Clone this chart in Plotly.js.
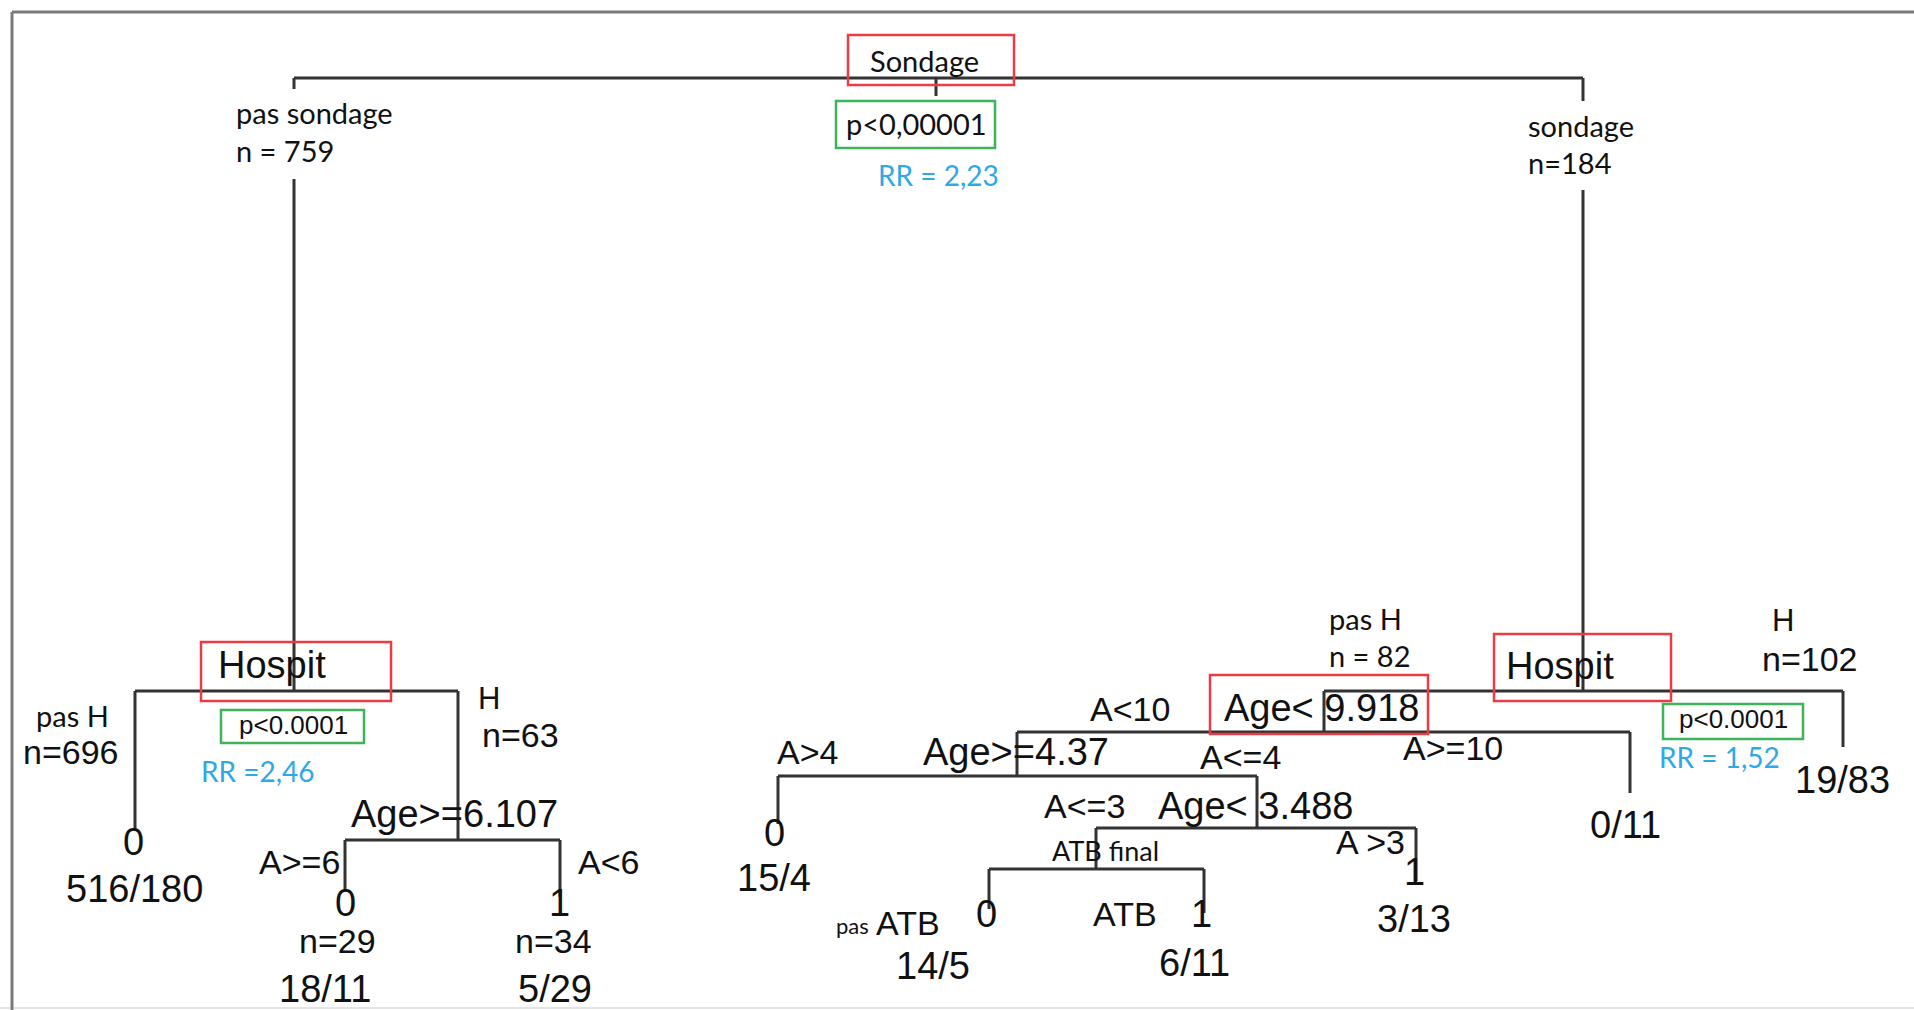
<!DOCTYPE html>
<html><head><meta charset="utf-8">
<script src="https://cdn.plot.ly/plotly-3.0.1.min.js"></script>
<style>html,body{margin:0;padding:0;background:#fff;}#chart{width:1914px;height:1010px;}</style>
</head><body><div id="chart"></div>
<script>
// ---------- tree (rpart) data ----------
// node order: 0 root, 1 Hospit(L), 2 Hospit(R), 3 Age>=6.107, 4..6 leaves, 7 Age<9.918, 8 leaf, 9 Age>=4.37, 10..11 leaves, 12 Age<3.488, 13 ATB final, 14..16 leaves
const nodeParent = [-1, 0, 0, 1, 1, 3, 3, 2, 2, 7, 7, 9, 9, 12, 12, 13, 13];
const nodeX      = [936, 294, 1583, 458, 135, 345, 560, 1324, 1843, 1017, 1630, 778, 1257, 1096, 1416, 989, 1204];
const nodeY      = [78, 691, 691, 840, 830, 891, 897, 732, 747, 776, 793, 824, 828, 869, 881, 909, 913];
const gapTop     = [null, 89, 101, null, null, null, null, null, null, null, null, null, null, null, null, null, null];
const gapBottom  = [null, 179, 190, null, null, null, null, null, null, null, null, null, null, null, null, null, null];
const rootStemEnd = 96;

// split labels
const splitText = ["Sondage", "Hospit", "Hospit", "Age>=6.107", "Age< 9.918", "Age>=4.37", "Age< 3.488", "ATB final"];
const splitTX   = [924, 216, 1504, 454, 1321, 1016, 1255, 1105];
const splitTY   = [60, 665, 666, 814, 708, 752, 806, 850];
const splitAnchor = ["center", "left", "left", "center", "center", "center", "center", "center"];
const splitFont = ["cal", "arialBig", "arialBig", "arialBig", "arialBig", "arialBig", "arialBig", "calSmall"];

// leaf predicted class
const leafClass = ["0", "0", "1", "0", "0", "1", "1"];
const leafCX    = [133, 345, 559, 774, 986, 1201, 1414];
const leafCY    = [842, 903, 903, 833, 914, 914, 872];

// leaf counts (no/yes)
const leafCounts = ["516/180", "18/11", "5/29", "19/83", "0/11", "15/4", "14/5", "6/11", "3/13"];
const countX     = [134, 325, 555, 1842, 1625, 774, 933, 1194, 1414];
const countY     = [889, 989, 989, 780, 825, 878, 966, 963, 919];

// sizes n
const nText = ["n=29", "n=34"];
const nX    = [337, 553];
const nY    = [941, 941];

// edge conditions
const edgeText = ["A>=6", "A<6", "A<10", "A>=10", "A>4", "A<=4", "A<=3", "A >3", "ATB"];
const edgeX    = [299, 608, 1130, 1453, 807, 1240, 1084, 1370, 1125];
const edgeY    = [862, 862, 709, 748, 752, 757, 806, 842, 914];

// branch annotations (Calibri-like)
const branchText = ["pas sondage", "n = 759", "sondage", "n=184", "pas H", "pas H", "n = 82"];
const branchX    = [234, 234, 1526, 1526, 34, 1327, 1327];
const branchY    = [112, 150, 125, 162, 715, 618, 655];

// branch annotations (Arial)
const hText = ["n=696", "H", "n=63", "H", "n=102", "ATB"];
const hX    = [21, 476, 480, 1770, 1760, 874];
const hY    = [752, 698, 735, 620, 659, 923];
const hFont = ["arialMid", "arialH", "arialMid", "arialH", "arialMid", "arialMid"];
const pasATB = {text: "pas", x: 834, y: 925};

// p-values and relative risks
const pText = ["p<0,00001", "p<0.0001", "p<0.0001"];
const pX    = [916, 293, 1733];
const pY    = [123, 725, 719];
const pFont = ["cal", "arialP", "arialP"];
const pBoxX0 = [836, 221, 1663], pBoxX1 = [995, 364, 1803];
const pBoxY0 = [101, 710, 704],  pBoxY1 = [148, 743, 739];

const rrText = ["RR = 2,23", "RR =2,46", "RR = 1,52"];
const rrX    = [938, 199, 1657];
const rrY    = [175, 771, 757];
const rrAnchor = ["center", "left", "left"];

// highlighted split boxes
const redX0 = [848, 201, 1494, 1210], redX1 = [1014, 391, 1671, 1428];
const redY0 = [35, 642, 634, 675],    redY1 = [85, 701, 701, 734];

// ---------- styles ----------
const fonts = {
  cal:      {family: "Lato, 'Open Sans', sans-serif", size: 29, color: "#111"},
  calSmall: {family: "Lato, 'Open Sans', sans-serif", size: 27, color: "#111"},
  calTiny:  {family: "Lato, 'Open Sans', sans-serif", size: 22, color: "#111"},
  arialBig: {family: "'Liberation Sans', Arial, sans-serif", size: 38, color: "#111"},
  arialMid: {family: "'Liberation Sans', Arial, sans-serif", size: 34, color: "#111"},
  arialH:   {family: "'Liberation Sans', Arial, sans-serif", size: 31, color: "#111"},
  arialP:   {family: "'Liberation Sans', Arial, sans-serif", size: 26, color: "#111"},
  rr:       {family: "Lato, 'Open Sans', sans-serif", size: 28, color: "#2ea8e6"}
};

// ---------- build tree lines ----------
const lx = [], ly = [];
function seg(x0, y0, x1, y1) { lx.push(x0, x1, null); ly.push(y0, y1, null); }
// root stem
seg(nodeX[0], nodeY[0], nodeX[0], rootStemEnd);
for (let i = 0; i < nodeParent.length; i++) {
  const p = nodeParent[i];
  if (p < 0) continue;
  if (gapTop[i] !== null) {
    seg(nodeX[i], nodeY[p], nodeX[i], gapTop[i]);
    seg(nodeX[i], gapBottom[i], nodeX[i], nodeY[i]);
  } else {
    seg(nodeX[i], nodeY[p], nodeX[i], nodeY[i]);
  }
}
// horizontal bars for internal nodes
for (let i = 0; i < nodeParent.length; i++) {
  const kids = [];
  nodeParent.forEach((p, j) => { if (p === i) kids.push(nodeX[j]); });
  if (kids.length) seg(Math.min(...kids), nodeY[i], Math.max(...kids), nodeY[i]);
}

const traces = [
  {x: [0, 1914], y: [1008, 1008], mode: "lines",
   line: {color: "#e4e4e4", width: 2}, hoverinfo: "skip", showlegend: false},
  {x: [12, 12, null, 12, 1914], y: [1010, 12, null, 12, 12], mode: "lines",
   line: {color: "#7a7a7a", width: 3}, hoverinfo: "skip", showlegend: false},
  {x: lx, y: ly, mode: "lines", line: {color: "#333333", width: 3},
   hoverinfo: "skip", showlegend: false, connectgaps: false}
];

// ---------- annotations ----------
const ann = [];
function addText(text, x, y, font, xanchor) {
  ann.push({text: text, x: x, y: y, xref: "x", yref: "y", showarrow: false,
            xanchor: xanchor || "center", yanchor: "middle", font: font});
}
splitText.forEach((t, i) => addText(t, splitTX[i], splitTY[i], fonts[splitFont[i]], splitAnchor[i]));
leafClass.forEach((t, i) => addText(t, leafCX[i], leafCY[i], fonts.arialBig));
leafCounts.forEach((t, i) => addText(t, countX[i], countY[i], fonts.arialBig));
nText.forEach((t, i) => addText(t, nX[i], nY[i], fonts.arialMid));
edgeText.forEach((t, i) => addText(t, edgeX[i], edgeY[i], fonts.arialMid));
branchText.forEach((t, i) => addText(t, branchX[i], branchY[i], fonts.cal, "left"));
hText.forEach((t, i) => addText(t, hX[i], hY[i], fonts[hFont[i]], "left"));
addText(pasATB.text, pasATB.x, pasATB.y, fonts.calTiny, "left");
pText.forEach((t, i) => addText(t, pX[i], pY[i], fonts[pFont[i]]));
rrText.forEach((t, i) => addText(t, rrX[i], rrY[i], fonts.rr, rrAnchor[i]));

// ---------- boxes ----------
const shapes = [];
redX0.forEach((v, i) => shapes.push({type: "rect", xref: "x", yref: "y", x0: v, x1: redX1[i],
  y0: redY0[i], y1: redY1[i], line: {color: "#ec3b45", width: 2.5}, layer: "above"}));
pBoxX0.forEach((v, i) => shapes.push({type: "rect", xref: "x", yref: "y", x0: v, x1: pBoxX1[i],
  y0: pBoxY0[i], y1: pBoxY1[i], line: {color: "#3db35a", width: 2.5}, layer: "above"}));

const layout = {
  width: 1914, height: 1010,
  margin: {l: 0, r: 0, t: 0, b: 0, pad: 0},
  paper_bgcolor: "#ffffff", plot_bgcolor: "#ffffff",
  xaxis: {range: [0, 1914], visible: false, fixedrange: true},
  yaxis: {range: [1010, 0], visible: false, fixedrange: true},
  showlegend: false,
  annotations: ann,
  shapes: shapes
};
Plotly.newPlot("chart", traces, layout, {displayModeBar: false, staticPlot: true});
</script>
</body></html>
